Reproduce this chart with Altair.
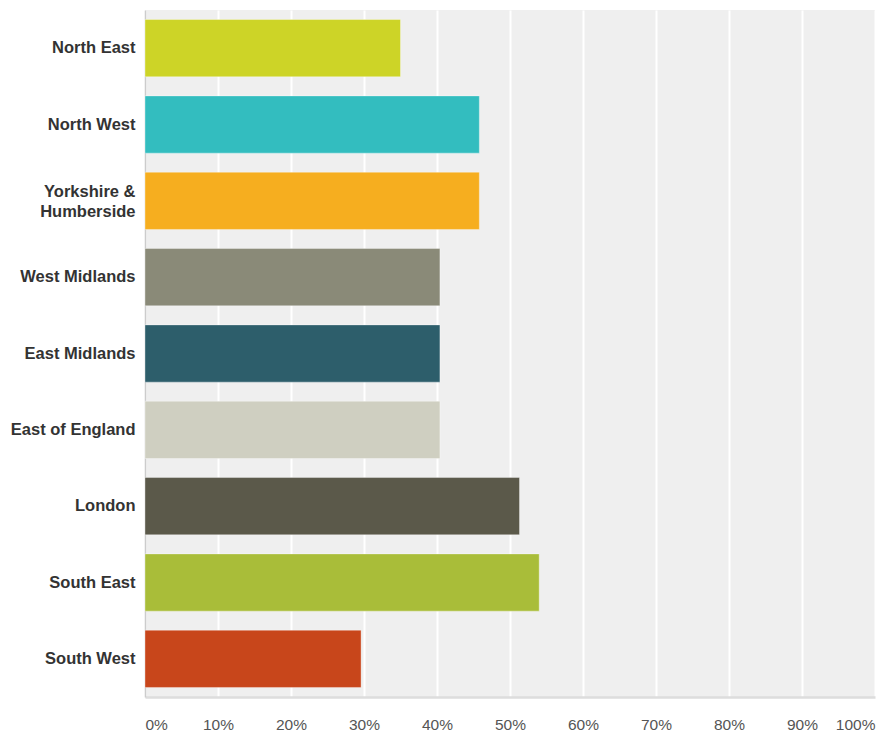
import altair as alt
import pandas as pd

regions = ["North East", "North West", "Yorkshire & Humberside", "West Midlands",
           "East Midlands", "East of England", "London", "South East", "South West"]
values = [0.35, 0.458, 0.458, 0.404, 0.404, 0.404, 0.513, 0.540, 0.296]
colors = ["#cdd427", "#33bdbf", "#f6ae1f", "#8a8a78", "#2d5e6b",
          "#cfcfc1", "#5b594a", "#a9bd39", "#c8461b"]
tick_values = [0, 0.1, 0.2, 0.3, 0.4, 0.5, 0.6, 0.7, 0.8, 0.9, 1.0]

df = pd.DataFrame({"region": regions, "value": values})

chart = alt.Chart(df).mark_bar(
    stroke="white", strokeOpacity=0.35, strokeWidth=1
).encode(
    y=alt.Y("region:N", sort=regions, title=None,
            scale=alt.Scale(paddingInner=0.25, paddingOuter=0.125),
            axis=alt.Axis(
                labelExpr="datum.value == 'Yorkshire & Humberside' ? ['Yorkshire &', 'Humberside'] : datum.label",
                labelOffset={"condition": {"test": "datum.value == 'Yorkshire & Humberside'", "value": -9}, "value": 0},
                labelFont="Liberation Sans", labelFontSize=16.5, labelFontWeight="bold",
                labelColor="#333333", labelPadding=10, labelLineHeight=20,
                ticks=False, domain=True, domainColor="#cccccc", domainWidth=1.5,
                grid=False, labelLimit=200)),
    x=alt.X("value:Q", title=None,
            scale=alt.Scale(domain=[0, 1], nice=False),
            axis=alt.Axis(values=tick_values, format=".0%", labelFlush=True,
                          labelFont="Liberation Sans", labelFontSize=15.5,
                          labelColor="#555555", labelPadding=20,
                          ticks=False, domain=True, domainColor="#dddddd",
                          domainWidth=2.5, grid=True, gridColor="#ffffff",
                          gridWidth=2)),
    color=alt.Color("region:N", scale=alt.Scale(domain=regions, range=colors),
                    legend=None),
).properties(
    width=730, height=687,
    background="white",
    autosize=alt.AutoSizeParams(type="none"),
    padding={"left": 145, "top": 10, "right": 2, "bottom": 41},
).configure_view(
    fill="#efefef", stroke=None
)

chart.save("out.html", embed_options={"renderer": "svg", "actions": False})
